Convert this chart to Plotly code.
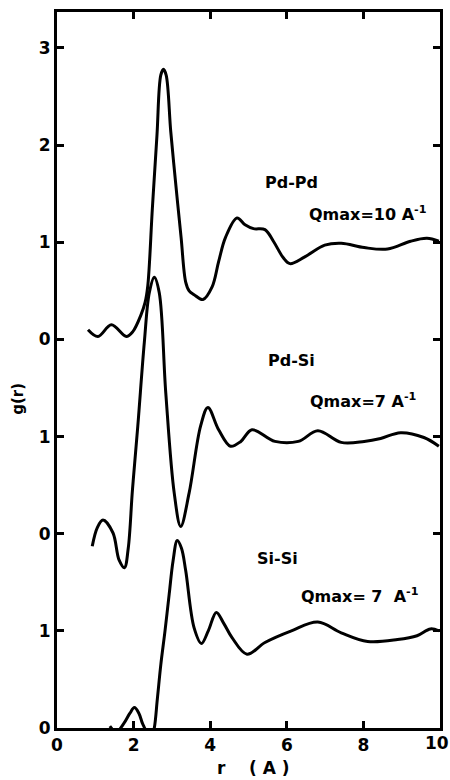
import plotly.graph_objects as go

# Pd-Pd pair distribution (drawn with offset +4)
pdpd_r = [0.81, 1.07, 1.42, 1.81, 1.98, 2.19, 2.30, 2.37, 2.49, 2.61, 2.71, 2.78, 2.85, 2.97, 3.10,
          3.24, 3.36, 3.45, 3.58, 3.81, 4.05, 4.22, 4.40, 4.70, 4.91, 5.13, 5.43, 5.65, 5.91, 6.08,
          6.47, 6.99, 7.42, 8.02, 8.63, 9.23, 9.66, 9.97]
pdpd_g = [0.10, 0.03, 0.15, 0.03, 0.08, 0.25, 0.38, 0.55, 1.35, 2.10, 2.72, 2.78, 2.72, 2.14, 1.60,
          1.05, 0.59, 0.50, 0.46, 0.41, 0.54, 0.80, 1.05, 1.25, 1.18, 1.14, 1.13, 1.01, 0.84, 0.78,
          0.85, 0.97, 0.99, 0.945, 0.93, 1.01, 1.04, 1.01]

# Pd-Si (drawn with offset +2)
pdsi_r = [0.92, 1.05, 1.20, 1.46, 1.62, 1.76, 1.86, 1.97, 2.11, 2.28, 2.41, 2.54, 2.67, 2.84, 3.06,
          3.23, 3.45, 3.75, 3.94, 4.22, 4.53, 4.80, 5.09, 5.69, 6.30, 6.81, 7.42, 8.02, 8.45, 8.97,
          9.58, 9.97]
pdsi_g = [-0.13, 0.06, 0.14, 0.01, -0.27, -0.35, -0.15, 0.45, 1.11, 1.97, 2.48, 2.64, 2.48, 1.45, 0.42,
          0.075, 0.42, 1.11, 1.30, 1.07, 0.90, 0.95, 1.07, 0.95, 0.95, 1.06, 0.94, 0.95, 0.98, 1.04,
          0.99, 0.90]

# Si-Si (drawn with offset 0)
sisi_r = [1.38, 1.55, 1.75, 1.90, 2.02, 2.14, 2.24, 2.45, 2.53, 2.62, 2.71, 2.82, 2.93, 3.03, 3.14,
          3.25, 3.36, 3.58, 3.77, 3.95, 4.16, 4.35, 4.57, 4.96, 5.43, 6.12, 6.81, 7.42, 8.11, 8.89,
          9.40, 9.75, 9.97]
sisi_g = [0.02, -0.04, 0.05, 0.15, 0.21, 0.15, 0.04, -0.10, -0.02, 0.30, 0.65, 1.00, 1.38, 1.72, 1.93,
          1.85, 1.62, 1.03, 0.87, 1.00, 1.19, 1.08, 0.93, 0.76, 0.88, 1.00, 1.09, 0.98, 0.89, 0.91,
          0.95, 1.02, 1.00]

offsets = {"Pd-Pd": 4, "Pd-Si": 2, "Si-Si": 0}

x_ticks = [0, 2, 4, 6, 8, 10]
x_ticktext = ["0", "2", "4", "6", "8", ""]
y_tickvals = [0, 1, 2, 3, 4, 5, 6, 7]
y_ticktext = ["0", "1", "0", "1", "0", "1", "2", "3"]

FONT = "DejaVu Sans"

fig = go.Figure()
for name, r, g in [("Pd-Pd", pdpd_r, pdpd_g), ("Pd-Si", pdsi_r, pdsi_g), ("Si-Si", sisi_r, sisi_g)]:
    off = offsets[name]
    fig.add_trace(go.Scatter(
        x=r, y=[v + off for v in g], mode="lines", name=name,
        line=dict(color="black", width=3, shape="spline", smoothing=1.0),
        showlegend=False, hoverinfo="skip"))

labels = [
    ("Pd-Pd", 6.11, 5.62),
    ("Qmax=10 A<sup>-1</sup>", 8.13, 5.30),
    ("Pd-Si", 6.11, 3.78),
    ("Qmax=7 A<sup>-1</sup>", 8.0, 3.37),
    ("Si-Si", 5.75, 1.74),
    ("Qmax= 7  A<sup>-1</sup>", 7.92, 1.36),
]
for txt, x, y in labels:
    fig.add_annotation(x=x, y=y, xref="x", yref="y", text=txt,
                       showarrow=False,
                       font=dict(family=FONT, size=16, color="black", weight="bold"),
                       xanchor="center", yanchor="middle")

# last x tick label, kept inside the page
fig.add_annotation(x=(440 - 57) / 386, y=-0.021, xref="paper", yref="paper", text="10",
                   showarrow=False, font=dict(family=FONT, size=17, color="black", weight="bold"),
                   xanchor="center", yanchor="middle")

fig.add_annotation(x=5.12, y=-0.056, xref="x", yref="paper", text="r    ( A )",
                   showarrow=False, font=dict(family=FONT, size=17, color="black", weight="bold"),
                   xanchor="center", yanchor="middle")
fig.add_annotation(x=-0.104, y=3.39, xref="paper", yref="y", text="g(r)", textangle=-90,
                   showarrow=False, font=dict(family=FONT, size=15, color="black", weight="bold"),
                   xanchor="center", yanchor="middle")

fig.update_layout(
    width=450, height=780,
    margin=dict(l=57, r=7, t=12, b=52),
    paper_bgcolor="white", plot_bgcolor="white",
    font=dict(family=FONT, color="black"),
)
fig.update_xaxes(range=[0, 10], tickvals=x_ticks, ticktext=x_ticktext,
                 showgrid=False, zeroline=False, showline=True, linecolor="black", linewidth=3,
                 mirror="ticks", ticks="inside", ticklen=7, tickwidth=2.5, tickcolor="black",
                 tickfont=dict(family=FONT, size=17, color="black", weight="bold"))
fig.update_yaxes(range=[0, 7.37], tickvals=y_tickvals, ticktext=y_ticktext,
                 showgrid=False, zeroline=False, showline=True, linecolor="black", linewidth=3,
                 mirror="ticks", ticks="inside", ticklen=7, tickwidth=2.5, tickcolor="black",
                 tickfont=dict(family=FONT, size=17, color="black", weight="bold"))

fig.write_html("out.html")
